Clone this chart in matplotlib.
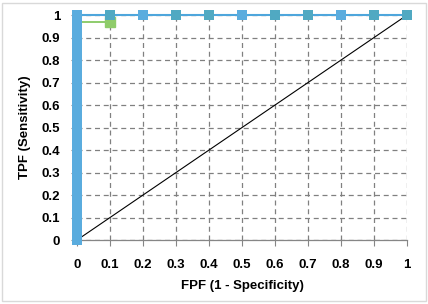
import matplotlib
matplotlib.use("Agg")
import matplotlib.pyplot as plt
from matplotlib.patches import Rectangle

# ROC points
roc_fpf = [0, 0, 0, 0, 0, 0, 0, 0, 0, 0, 0, 0, 0, 0, 0, 0, 0, 0, 0, 0, 0, 0, 0, 0, 0, 0, 0, 0, 0, 0, 0,
           0.1, 0.2, 0.3, 0.4, 0.5, 0.6, 0.7, 0.8, 0.9, 1.0]
roc_tpf = [0, 0.033, 0.067, 0.1, 0.133, 0.167, 0.2, 0.233, 0.267, 0.3, 0.333, 0.367, 0.4, 0.433,
           0.467, 0.5, 0.533, 0.567, 0.6, 0.633, 0.667, 0.7, 0.733, 0.767, 0.8, 0.833, 0.867,
           0.9, 0.933, 0.967, 1.0,
           1, 1, 1, 1, 1, 1, 1, 1, 1, 1]
# overlapping points (darker markers on the top row)
dup_fpf = [0.1, 0.3, 0.4, 0.6, 0.7, 0.9, 1.0]
dup_tpf = [1, 1, 1, 1, 1, 1, 1]

alt_fpf = [0, 0.1]
alt_tpf = [0.967, 0.967]

chance_fpf = [0, 1]
chance_tpf = [0, 1]

ticks = [0, 0.1, 0.2, 0.3, 0.4, 0.5, 0.6, 0.7, 0.8, 0.9, 1]
tick_labels = ["0", "0.1", "0.2", "0.3", "0.4", "0.5", "0.6", "0.7", "0.8", "0.9", "1"]

plt.rcParams['font.family'] = ['Liberation Sans', 'DejaVu Sans']

fig = plt.figure(figsize=(4.28, 3.04), dpi=100)
fig.patches.append(Rectangle((0.005, 0.01), 0.99, 0.98, transform=fig.transFigure,
                             fill=False, edgecolor='#d9d9d9', linewidth=1.0))
ax = fig.add_axes([0.18, 0.2105, 0.771, 0.74])

ax.plot(chance_fpf, chance_tpf, color='black', linewidth=0.8, zorder=3)
ax.plot(alt_fpf, alt_tpf, color='#7cc354', linewidth=1.2, zorder=4)
ax.plot(alt_fpf[1:], alt_tpf[1:], linestyle='none', marker='s', markersize=7,
        color='#8fcc6a', zorder=4, clip_on=False)
ax.plot(roc_fpf, roc_tpf, color='#4ea6dc', linewidth=1.5, marker='s', markersize=7,
        markerfacecolor='#5aacde', markeredgewidth=0, zorder=5, clip_on=False)
ax.plot(dup_fpf, dup_tpf, linestyle='none', marker='s', markersize=7, markeredgewidth=0,
        color='#4aa8b0', alpha=0.6, zorder=6, clip_on=False)

ax.set_xlim(0, 1)
ax.set_ylim(0, 1)
ax.set_xticks(ticks)
ax.set_xticklabels(tick_labels)
ax.set_yticks(ticks)
ax.set_yticklabels(tick_labels)
ax.grid(True, color='#808080', linestyle=(0, (4, 3)), linewidth=0.9)
ax.set_axisbelow(True)

for side in ['top', 'right']:
    ax.spines[side].set_visible(False)
for side in ['left', 'bottom']:
    ax.spines[side].set_color('#868686')
    ax.spines[side].set_linewidth(0.9)
ax.tick_params(direction='out', length=4, color='#868686')
ax.tick_params(axis='x', pad=10)
ax.tick_params(axis='y', pad=8)
for lbl in ax.get_xticklabels() + ax.get_yticklabels():
    lbl.set_fontsize(9.5)
    lbl.set_fontweight('bold')

ax.set_xlabel("FPF (1 - Specificity)", fontsize=9.5, fontweight='bold', labelpad=6)
ax.set_ylabel("TPF (Sensitivity)", fontsize=9.5, fontweight='bold', labelpad=8)

fig.savefig("out.png", dpi=100)
